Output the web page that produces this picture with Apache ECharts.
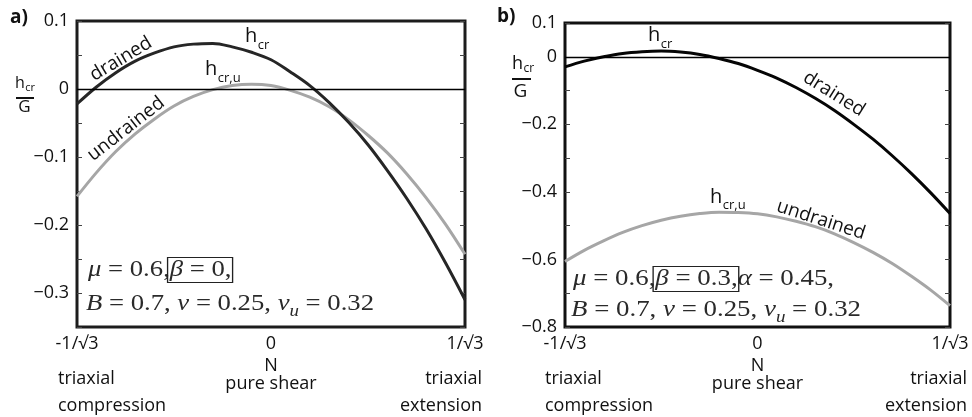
<!DOCTYPE html>
<html><head><meta charset="utf-8">
<script src="https://cdn.jsdelivr.net/npm/echarts@6/dist/echarts.min.js"></script>
<style>html,body{margin:0;padding:0;background:#fff}#c{width:972px;height:417px}</style>
</head><body><div id="c"></div>
<script>
// ---- data (x in units of N*sqrt(3), i.e. -1 = -1/sqrt3, 1 = 1/sqrt3) ----
const xs = [-1,-0.9,-0.8,-0.7,-0.6,-0.5,-0.4,-0.3,-0.2,-0.1,0,0.1,0.2,0.3,0.4,0.5,0.6,0.7,0.8,0.9,1];
const xTickLabels = ['-1/\u221A3','0','1/\u221A3'];
const yTicksA = [0.1, 0, -0.1, -0.2, -0.3];
const yTicksB = [0.1, 0, -0.2, -0.4, -0.6, -0.8];
// panel a) beta = 0
const drainedA   = [-0.022,0.003,0.024,0.041,0.053,0.062,0.066,0.067,0.062,0.054,0.043,0.025,0.005,-0.020,-0.049,-0.082,-0.120,-0.161,-0.206,-0.256,-0.310];
const undrainedA = [-0.158,-0.123,-0.092,-0.066,-0.044,-0.025,-0.011,-0.001,0.005,0.007,0.005,-0.002,-0.012,-0.026,-0.045,-0.068,-0.094,-0.125,-0.160,-0.199,-0.243];
// panel b) beta = 0.3
const drainedB   = [-0.030,-0.013,0.000,0.010,0.015,0.017,0.014,0.007,-0.005,-0.020,-0.040,-0.063,-0.091,-0.123,-0.159,-0.200,-0.244,-0.293,-0.346,-0.403,-0.464];
const undrainedB = [-0.606,-0.573,-0.545,-0.520,-0.500,-0.484,-0.472,-0.464,-0.460,-0.461,-0.465,-0.474,-0.487,-0.503,-0.524,-0.550,-0.579,-0.612,-0.650,-0.691,-0.737];

const F = '"Open Sans", sans-serif';
const SERIF = '"Liberation Serif", "DejaVu Serif", serif';
const pair = arr => xs.map((x,i)=>[x, arr[i]]);
const isTick = (v, list) => list.some(t => Math.abs(t - v) < 1e-6);
const fmtY = (v, list) => isTick(v, list) ? (Math.abs(v) < 1e-9 ? '0' : (v < 0 ? '\u2212' + (-v).toFixed(1) : v.toFixed(1))) : '';

const chart = echarts.init(document.getElementById('c'));
const ctx = document.createElement('canvas').getContext('2d');
function tw(text, font){ ctx.font = font; return ctx.measureText(text).width; }

function txt(x, y, text, size, opt){
  opt = opt || {};
  const font = (opt.italic?'italic ':'') + (opt.bold?'bold ':'') + size + 'px ' + (opt.family || F);
  return {type:'text', x:x, y:y, rotation: opt.rot || 0, silent:true,
    style:{text:text, font:font, fill: opt.color || '#111',
      align: opt.align || 'left', verticalAlign: 'middle',
      textAlign: opt.align || 'left', textVerticalAlign: 'middle'}};
}
function subLabel(x, y, main, sub, size, subSize, dy){
  const w = tw(main, size + 'px ' + F);
  return [txt(x, y, main, size), txt(x + w + 0.5, y + dy, sub, subSize)];
}
// lays out a math line from local x=0; returns children and natural width
function mathLine(segs, size){
  let cx = 0; const els = []; let box = null;
  segs.forEach(s => {
    const fs = s.sub ? Math.round(size*0.72) : size;
    const font = (s.it ? 'italic ' : '') + fs + 'px ' + SERIF;
    const w = tw(s.t, font);
    if (s.boxStart) box = {x0: cx};
    els.push({type:'text', x: cx, y: (s.sub ? size*0.3 : 0), silent:true,
      style:{text:s.t, font:font, fill:'#2a2a2a', align:'left', verticalAlign:'middle', textAlign:'left', textVerticalAlign:'middle'}});
    cx += w;
    if (s.boxEnd) box.x1 = cx;
  });
  if (box) els.push({type:'rect', silent:true, shape:{x: box.x0 - 2, y: -size*0.52, width: box.x1 - box.x0 + 3, height: size*1.04},
    style:{fill:'none', stroke:'#222', lineWidth:1.2}});
  return {els: els, width: cx};
}
function mathGroup(x, y, segs, size, sx){
  const m = mathLine(segs, size);
  return {type:'group', x:x, y:y, scaleX:sx, silent:true, children:m.els};
}

const MS = 24;
const line2 = [{t:'B',it:1},{t:' = 0.7, '},{t:'\u03BD',it:1},{t:' = 0.25, '},{t:'\u03BD',it:1},{t:'u',it:1,sub:1},{t:' = 0.32'}];
const sxA = 288 / mathLine(line2, MS).width;
const sxB = 290 / mathLine(line2, MS).width;

const graphic = [].concat(
  [txt(10, 18, 'a)', 19, {bold:true}), txt(497, 17, 'b)', 19, {bold:true})],
  // y-axis fraction labels
  subLabel(15, 83, 'h', 'cr', 16, 11, 5),
  [{type:'line', silent:true, shape:{x1:16, y1:98, x2:34, y2:98}, style:{stroke:'#111', lineWidth:2}},
   txt(24.5, 107.5, 'G', 17, {align:'center'})],
  subLabel(512, 63.5, 'h', 'cr', 18, 12, 5),
  [{type:'line', silent:true, shape:{x1:512, y1:79, x2:531, y2:79}, style:{stroke:'#111', lineWidth:2}},
   txt(520.5, 92, 'G', 19, {align:'center'})],
  // curve labels
  subLabel(245, 36, 'h', 'cr', 20, 13, 9),
  subLabel(205, 69.5, 'h', 'cr,u', 20, 13, 9),
  subLabel(648, 35.5, 'h', 'cr', 20, 13, 9),
  subLabel(710, 197.5, 'h', 'cr,u', 20, 13, 8),
  [txt(121, 59, 'drained', 19, {align:'center', rot: 31*Math.PI/180}),
   txt(126, 129, 'undrained', 19, {align:'center', rot: 38*Math.PI/180}),
   txt(834, 94, 'drained', 19, {align:'center', rot: -32*Math.PI/180}),
   txt(821, 220, 'undrained', 19, {align:'center', rot: -18*Math.PI/180})],
  // parameter annotations
  [mathGroup(88, 270, [{t:'\u03BC',it:1},{t:' = 0.6,'},{t:'\u03B2',it:1,boxStart:1},{t:' = 0,',boxEnd:1}], MS, sxA),
   mathGroup(86, 304, line2, MS, sxA),
   mathGroup(573, 279, [{t:'\u03BC',it:1},{t:' = 0.6,'},{t:'\u03B2',it:1,boxStart:1},{t:' = 0.3,',boxEnd:1},{t:'\u03B1',it:1},{t:' = 0.45,'}], MS, sxB),
   mathGroup(571, 310, line2, MS, sxB)],
  // bottom captions
  [txt(271, 366, 'N', 18, {align:'center'}), txt(271, 384, 'pure shear', 18, {align:'center'}),
   txt(757.5, 366, 'N', 18, {align:'center'}), txt(757.5, 384, 'pure shear', 18, {align:'center'}),
   txt(58, 379, 'triaxial', 18), txt(58, 406, 'compression', 18),
   txt(482, 379, 'triaxial', 18, {align:'right'}), txt(482, 406, 'extension', 18, {align:'right'}),
   txt(545, 379, 'triaxial', 18), txt(545, 406, 'compression', 18),
   txt(967, 379, 'triaxial', 18, {align:'right'}), txt(967, 406, 'extension', 18, {align:'right'})]
);

const tickStyle = {show:true, inside:true, length:5, lineStyle:{color:'#444', width:1}};
function yAx(grid, min, max, interval, pos, list){
  return {gridIndex:grid, type:'value', min:min, max:max, interval:interval, position:pos,
    axisLine:{show:false, onZero:false}, axisTick:tickStyle, splitLine:{show:false},
    axisLabel: list ? {show:true, margin:8, fontSize:18, fontFamily:F, color:'#111', formatter: v => fmtY(v, list)} : {show:false}};
}
const zeroLine = {silent:true, symbol:['none','none'], label:{show:false}, animation:false,
  lineStyle:{color:'#000', width:1.3, type:'solid'}, emphasis:{disabled:true}, data:[{yAxis:0}]};
function curve(xi, yi, data, color, mark){
  const s = {type:'line', xAxisIndex:xi, yAxisIndex:yi, data:pair(data), smooth:0.35, showSymbol:false, silent:true,
    lineStyle:{color:color, width:3}, itemStyle:{color:color}, z:3};
  if (mark) s.markLine = zeroLine;
  return s;
}

chart.setOption({
  backgroundColor:'#fff', animation:false,
  grid:[
    {left:77, top:21, width:388, height:306, show:true, borderColor:'#1c1c1c', borderWidth:3, backgroundColor:'transparent'},
    {left:565, top:23, width:385, height:304, show:true, borderColor:'#111', borderWidth:3, backgroundColor:'transparent'}
  ],
  xAxis:[0,1].map(i => ({gridIndex:i, type:'value', min:-1, max:1, interval:1,
    axisLine:{show:false, onZero:false}, axisTick:{show:false}, splitLine:{show:false},
    axisLabel:{margin:8, fontSize:18, fontFamily:F, color:'#111', formatter: v => xTickLabels[Math.round(v)+1]}})),
  yAxis:[
    yAx(0, -0.35, 0.1, 0.05, 'left', yTicksA),
    yAx(0, -0.35, 0.1, 0.05, 'right', null),
    yAx(1, -0.8, 0.1, 0.1, 'left', yTicksB),
    yAx(1, -0.8, 0.1, 0.1, 'right', null)
  ],
  series:[
    curve(0, 0, undrainedA, '#a6a6a6', true),
    curve(0, 0, drainedA, '#262626', false),
    curve(1, 2, undrainedB, '#a6a6a6', true),
    curve(1, 2, drainedB, '#050505', false)
  ],
  graphic: graphic
});
</script></body></html>
